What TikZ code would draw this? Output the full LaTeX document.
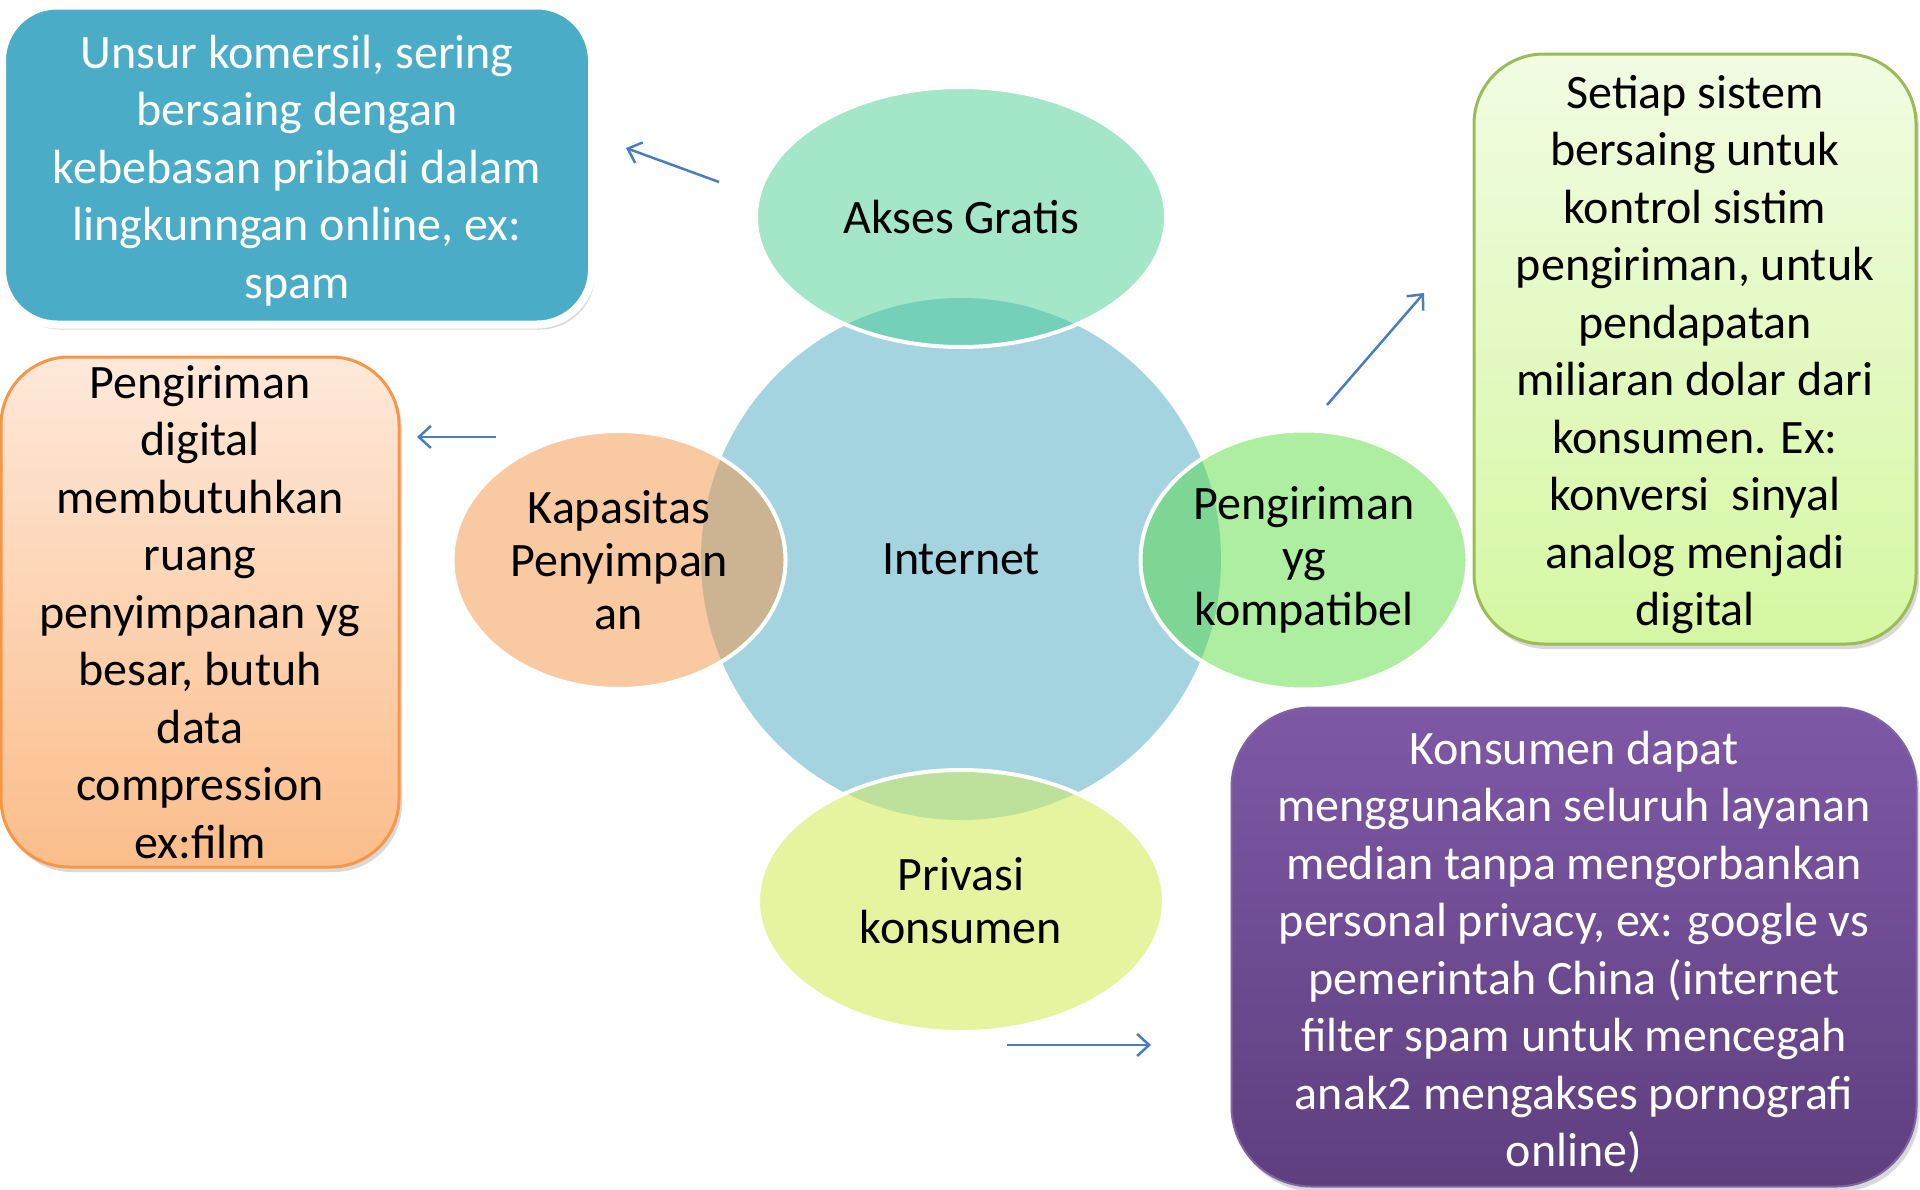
\documentclass[tikz,border=0pt]{standalone}
\usepackage{fontspec}
\setmainfont{Carlito}
\usetikzlibrary{shapes.geometric,shadows,arrows.meta}
\definecolor{netblue}{HTML}{A5D4E1}
\definecolor{aksesfill}{HTML}{A3E6C8}
\definecolor{aksesmix}{HTML}{74D0B8}
\definecolor{kapfill}{HTML}{F9C9A1}
\definecolor{kapmix}{HTML}{CCB392}
\definecolor{kirimfill}{HTML}{AEEEA0}
\definecolor{kirimmix}{HTML}{7ED694}
\definecolor{privfill}{HTML}{E6F49F}
\definecolor{privmix}{HTML}{BDE09A}
\definecolor{unsurblue}{HTML}{4AACC6}
\definecolor{peachtop}{HTML}{FEE9DA}
\definecolor{peachbot}{HTML}{FBBD8A}
\definecolor{orangeline}{HTML}{F79646}
\definecolor{limetop}{HTML}{F1FCE2}
\definecolor{limebot}{HTML}{D6F7A2}
\definecolor{limeline}{HTML}{9BBB59}
\definecolor{plumtop}{HTML}{7E58A6}
\definecolor{plumbot}{HTML}{5E3F7E}
\definecolor{plumline}{HTML}{8064A2}
\definecolor{arrowblue}{HTML}{4A7EBB}
\newcommand{\toppad}{\rule{0pt}{44pt}}

\begin{document}
\begin{tikzpicture}[x=1pt,y=-1pt,
    bubble/.style={ellipse,draw=white,line width=4pt,inner sep=0pt,align=center,
        font=\fontsize{48}{53}\selectfont},
    card/.style={align=center,inner sep=0pt,font=\fontsize{48}{57.5}\selectfont,
        drop shadow={opacity=.3,shadow xshift=3pt,shadow yshift=-5pt}},
    link/.style={-{Straight Barb[length=12pt,width=22pt]},line width=2.5pt,color=arrowblue}]
    \clip (0,0) rectangle (1920,1189);
    \node[ellipse,fill=netblue,inner sep=0pt,minimum width=520pt,minimum height=522pt,
        font=\fontsize{48}{53}\selectfont] (internet) at (961,559) {Internet};
    \node[bubble,fill=aksesfill,minimum width=410pt,minimum height=260pt,
        path picture={\fill[aksesmix] (internet.center) ellipse (260pt and 261pt);}]
        (akses) at (961,217) {Akses Gratis};
    \node[bubble,fill=kapfill,minimum width=333pt,minimum height=258pt,
        path picture={\fill[kapmix] (internet.center) ellipse (260pt and 261pt);}]
        (kapasitas) at (619,560) {Kapasitas\\Penyimpan\\an};
    \node[bubble,fill=kirimfill,minimum width=327pt,minimum height=259pt,
        path picture={\fill[kirimmix] (internet.center) ellipse (260pt and 261pt);}]
        (kompatibel) at (1304,560) {Pengiriman\\yg\\kompatibel};
    \node[bubble,fill=privfill,minimum width=406pt,minimum height=262pt,
        path picture={\fill[privmix] (internet.center) ellipse (260pt and 261pt);}]
        (privasi) at (961,901) {Privasi\\konsumen};

    \node[card,fill=unsurblue,draw=white,line width=8pt,text=white,rounded corners=55pt,
        minimum width=590pt,minimum height=319pt] (unsur) at (297,165)
        {\toppad Unsur komersil, sering\\bersaing dengan\\kebebasan pribadi dalam\\lingkunngan online, ex:\\spam};
    \node[card,top color=peachtop,bottom color=peachbot,draw=orangeline,line width=3pt,
        rounded corners=68pt,minimum width=398pt,minimum height=510pt] (ruang) at (200,612)
        {Pengiriman\\digital\\membutuhkan\\ruang\\penyimpanan yg\\besar, butuh\\data\\compression\\ex:film};
    \node[card,top color=limetop,bottom color=limebot,draw=limeline,line width=3pt,
        rounded corners=70pt,minimum width=442pt,minimum height=590pt] (kontrol) at (1695,349)
        {\toppad Setiap sistem\\bersaing untuk\\kontrol sistim\\pengiriman, untuk\\pendapatan\\miliaran dolar dari\\konsumen. Ex:\\konversi\ \ sinyal\\analog menjadi\\digital};
    \node[card,top color=plumtop,bottom color=plumbot,draw=plumline,line width=2pt,text=white,
        rounded corners=80pt,minimum width=685pt,minimum height=479pt] (layanan) at (1574,947)
        {\toppad Konsumen dapat\\menggunakan seluruh layanan\\median tanpa mengorbankan\\personal privacy, ex: google vs\\pemerintah China (internet\\filter spam untuk mencegah\\anak2 mengakses pornografi\\online)};

    \coordinate (aksesout) at (719,182);
    \coordinate (unsurin) at (626,148);
    \coordinate (kapout) at (496,437);
    \coordinate (ruangin) at (417,437);
    \coordinate (kirimout) at (1327,405);
    \coordinate (kontrolin) at (1424,293);
    \coordinate (privout) at (1007,1045);
    \coordinate (layananin) at (1151,1045);
    \draw[link] (aksesout) -- (unsurin);
    \draw[link] (kapout) -- (ruangin);
    \draw[link] (kirimout) -- (kontrolin);
    \draw[link] (privout) -- (layananin);
\end{tikzpicture}
\end{document}
